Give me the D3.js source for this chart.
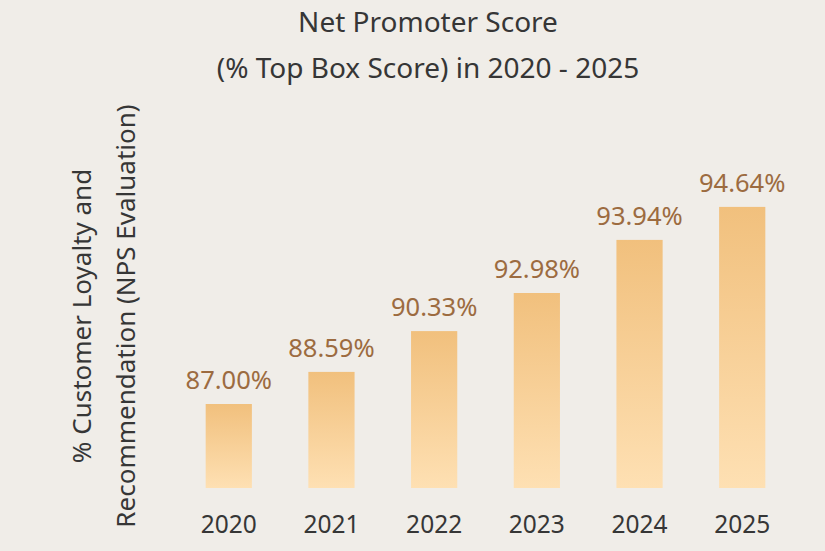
<html>
<meta charset="UTF-8">
<head>
    <title>Net Promoter Score</title>
    <script src="https://d3js.org/d3.v7.min.js"></script>
    <style>
        body {
            margin: 0;
            background: #f0ede8;
            font-family: "Noto Sans", sans-serif;
        }
    </style>
</head>
<body>
    <svg id="graph" height=551 width=825></svg>
</body>
<script>
    // data
    const years = ["2020", "2021", "2022", "2023", "2024", "2025"];
    const scoreLabels = ["87.00%", "88.59%", "90.33%", "92.98%", "93.94%", "94.64%"];
    // bar lengths as drawn (0-100 of the plot height), not proportional to the labels
    const barLevels = [28.0, 38.7, 52.3, 65.0, 82.7, 93.7];
    const titleLines = ["Net Promoter Score", "(% Top Box Score) in 2020 - 2025"];
    const yTitleLines = ["% Customer Loyalty and", "Recommendation (NPS Evaluation)"];

    const svg = d3.select("svg#graph");
    const width = svg.attr("width");
    const height = svg.attr("height");

    const margin = {top: 188, right: 34, bottom: 63, left: 180};
    const chartWidth = width - margin.left - margin.right;
    const chartHeight = height - margin.top - margin.bottom;

    svg.append("rect")
        .attr("width", width)
        .attr("height", height)
        .attr("fill", "#f0ede8");

    // gradient for bars
    const defs = svg.append("defs");
    const grad = defs.append("linearGradient")
        .attr("id", "barGrad")
        .attr("x1", 0).attr("y1", 0)
        .attr("x2", 0).attr("y2", 1);
    grad.append("stop").attr("offset", "0%").attr("stop-color", "#f1c07d");
    grad.append("stop").attr("offset", "100%").attr("stop-color", "#fee0b3");

    const chartArea = svg.append("g")
        .attr("transform", `translate(${margin.left},${margin.top})`);

    const xScale = d3.scaleBand()
        .domain(years)
        .range([0, chartWidth])
        .paddingInner(0.55)
        .paddingOuter(0.25);

    const yScale = d3.scaleLinear()
        .domain([0, 100])
        .range([chartHeight, 0]);

    const data = years.map((y, i) => ({year: y, level: barLevels[i], label: scoreLabels[i]}));

    chartArea.selectAll("rect.bar")
        .data(data)
        .join("rect")
        .attr("class", "bar")
        .attr("x", d => xScale(d.year))
        .attr("y", d => yScale(d.level))
        .attr("width", xScale.bandwidth())
        .attr("height", d => chartHeight - yScale(d.level))
        .attr("fill", "url(#barGrad)");

    chartArea.selectAll("text.value")
        .data(data)
        .join("text")
        .attr("class", "value")
        .attr("x", d => xScale(d.year) + xScale.bandwidth() / 2)
        .attr("y", d => yScale(d.level) - 15)
        .attr("text-anchor", "middle")
        .attr("font-size", "25.5px")
        .attr("fill", "#9c6b40")
        .text(d => d.label);

    // x axis, labels only
    const bottomAxis = d3.axisBottom(xScale).tickSize(0).tickPadding(28);
    const xAxis = chartArea.append("g")
        .attr("transform", `translate(0,${chartHeight})`)
        .call(bottomAxis);
    xAxis.select(".domain").remove();
    xAxis.selectAll("text")
        .attr("font-family", "Noto Sans, sans-serif")
        .attr("font-size", "24.5px")
        .attr("fill", "#363636");

    // titles
    svg.selectAll("text.title")
        .data(titleLines)
        .join("text")
        .attr("class", "title")
        .attr("x", 428)
        .attr("y", (d, i) => 32 + i * 46)
        .attr("text-anchor", "middle")
        .attr("font-size", "28px")
        .attr("fill", "#363636")
        .text(d => d);

    svg.selectAll("text.ytitle")
        .data(yTitleLines)
        .join("text")
        .attr("class", "ytitle")
        .attr("transform", (d, i) => `translate(${91 + i * 44},316) rotate(-90)`)
        .attr("text-anchor", "middle")
        .attr("font-size", "26px")
        .attr("fill", "#363636")
        .text(d => d);
</script>
</html>
